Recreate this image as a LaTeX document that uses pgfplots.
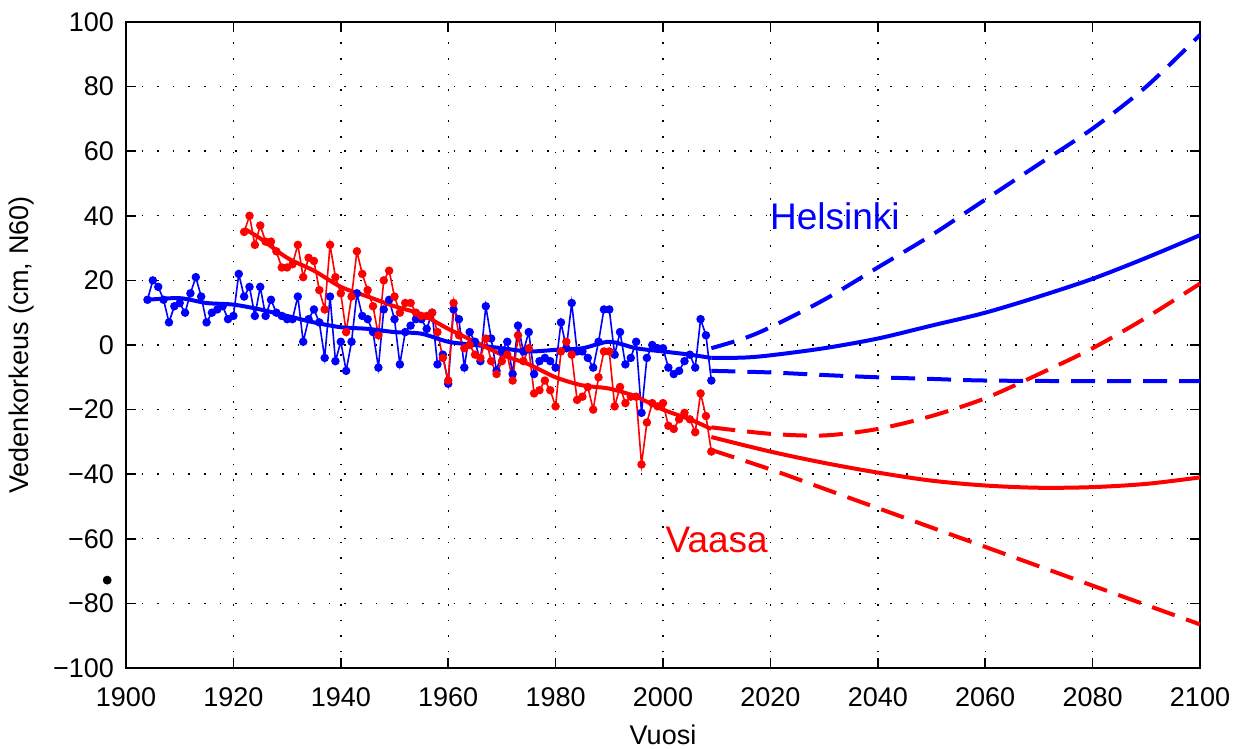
\documentclass[border=0pt]{standalone}
\usepackage{fontspec}
\setmainfont{Liberation Sans}
\usepackage{pgfplots}
\pgfplotsset{compat=1.18}

\definecolor{mblue}{RGB}{0,0,255}
\definecolor{mred}{RGB}{255,0,0}

\begin{document}
\begin{tikzpicture}
\useasboundingbox (-63pt,-40.5pt) rectangle (558pt,334pt);
\begin{axis}[
    at={(0,0)}, anchor=south west,
    scale only axis, width=537pt, height=323pt,
    xmin=1900, xmax=2100, ymin=-100, ymax=100,
    xtick={1900,1920,...,2100},
    xticklabels={1900,1920,1940,1960,1980,2000,2020,2040,2060,2080,2100},
    ytick={-100,-80,...,100},
    yticklabels={−100,−80,−60,−40,−20,0,20,40,60,80,100},
    tick label style={font=\fontsize{13.5}{16}\selectfont},
    xticklabel style={yshift=-6.5pt},
    yticklabel style={xshift=-2.5pt},
    label style={font=\fontsize{13.5}{16}\selectfont},
    grid=major,
    major grid style={black, line width=0.7pt, dash pattern=on 0.8pt off 7pt},
    tick align=inside, major tick length=5pt,
    tick style={black, line width=0.8pt},
    axis line style={line width=0.8pt},
    xlabel={Vuosi},
    xlabel style={at={(axis description cs:0.5,-0.104)}, anchor=center},
    ylabel={Vedenkorkeus (cm, N60)},
    ylabel style={at={(axis description cs:-0.097,0.5)}, anchor=center},
    clip=false,
]
% Helsinki, vuosikeskiarvot
\addplot[mblue, line width=0.8pt, mark=*, mark size=1.7pt] coordinates {
(1904,14)(1905,20)(1906,18)(1907,14)(1908,7)(1909,12)(1910,13)(1911,10)(1912,16)(1913,21)
(1914,15)(1915,7)(1916,10)(1917,11)(1918,12)(1919,8)(1920,9)(1921,22)(1922,15)(1923,18)
(1924,9)(1925,18)(1926,9)(1927,14)(1928,10)(1929,9)(1930,8)(1931,8)(1932,15)(1933,1)
(1934,8)(1935,11)(1936,7)(1937,-4)(1938,15)(1939,-5)(1940,1)(1941,-8)(1942,1)(1943,16)
(1944,9)(1945,8)(1946,4)(1947,-7)(1948,11)(1949,14)(1950,8)(1951,-6)(1952,4)(1953,6)
(1954,8)(1955,8)(1956,5)(1957,10)(1958,-6)(1959,-3)(1960,-12)(1961,11)(1962,8)(1963,-7)
(1964,4)(1965,1)(1966,-5)(1967,12)(1968,2)(1969,-8)(1970,-2)(1971,1)(1972,-9)(1973,6)
(1974,-2)(1975,4)(1976,-9)(1977,-5)(1978,-4)(1979,-5)(1980,-7)(1981,7)(1982,-1)(1983,13)
(1984,-2)(1985,-2)(1986,-4)(1987,-7)(1988,1)(1989,11)(1990,11)(1991,-3)(1992,4)(1993,-6)
(1994,-4)(1995,1)(1996,-21)(1997,-4)(1998,0)(1999,-1)(2000,-1)(2001,-7)(2002,-9)(2003,-8)
(2004,-5)(2005,-3)(2006,-7)(2007,8)(2008,3)(2009,-11)
};
% Vaasa, vuosikeskiarvot
\addplot[mred, line width=0.8pt, mark=*, mark size=1.7pt] coordinates {
(1922,35)(1923,40)(1924,31)(1925,37)(1926,32)(1927,32)(1928,29)(1929,24)(1930,24)(1931,25)
(1932,31)(1933,21)(1934,27)(1935,26)(1936,17)(1937,11)(1938,31)(1939,21)(1940,16)(1941,4)
(1942,15)(1943,29)(1944,22)(1945,17)(1946,12)(1947,3)(1948,20)(1949,23)(1950,15)(1951,10)
(1952,13)(1953,13)(1954,10)(1955,9)(1956,9)(1957,10)(1958,4)(1959,-4)(1960,-11)(1961,13)
(1962,3)(1963,-1)(1964,0)(1965,-3)(1966,-4)(1967,2)(1968,-5)(1969,-9)(1970,-5)(1971,-3)
(1972,-11)(1973,3)(1974,-5)(1975,-1)(1976,-15)(1977,-14)(1978,-11)(1979,-14)(1980,-19)(1981,-2)
(1982,1)(1983,-3)(1984,-17)(1985,-16)(1986,-13)(1987,-20)(1988,-10)(1989,-2)(1990,-2)(1991,-19)
(1992,-13)(1993,-18)(1994,-16)(1995,-16)(1996,-37)(1997,-24)(1998,-18)(1999,-19)(2000,-18)(2001,-25)
(2002,-26)(2003,-23)(2004,-21)(2005,-23)(2006,-27)(2007,-15)(2008,-22)(2009,-33)
};
% tasoitetut trendit
\addplot[mblue, line width=2pt, smooth] coordinates {
(1904,14)(1910,14.5)(1915,13)(1920,12.5)(1925,11)(1930,9)(1935,7)(1940,5.5)(1945,5)(1950,4)
(1955,3.5)(1960,1)(1965,0)(1970,-1)(1975,-2)(1980,-1.5)(1985,-1)(1990,1)(1995,-1)(2000,-2)
(2005,-3)(2009,-4)
};
\addplot[mred, line width=2pt, smooth] coordinates {
(1922,36)(1925,33)(1930,27)(1935,23)(1940,18)(1945,15)(1950,12)(1955,9.5)(1960,5)(1965,1)
(1970,-3)(1975,-6)(1980,-10)(1985,-12.5)(1990,-13.5)(1995,-16)(2000,-20)(2005,-23)(2009,-26)
};
% Helsinki, skenaariot
\addplot[mblue, line width=2pt, smooth] coordinates {
(2009,-4)(2015,-3.9)(2020,-3.2)(2030,-1)(2040,2)(2050,6)(2060,10)(2070,15)(2080,20.5)(2090,27)(2100,34)
};
\addplot[mblue, line width=2pt, smooth, dash pattern=on 12pt off 6pt] coordinates {
(2009,-1)(2015,2)(2020,5.5)(2030,14)(2040,24)(2050,34)(2060,45)(2070,56)(2080,67)(2090,80)(2100,96)
};
\addplot[mblue, line width=2pt, smooth, dash pattern=on 12pt off 6pt] coordinates {
(2009,-8)(2020,-8.5)(2030,-9.3)(2040,-10)(2050,-10.5)(2060,-11)(2080,-11.2)(2100,-11.2)
};
% Vaasa, skenaariot
\addplot[mred, line width=2pt, smooth] coordinates {
(2009,-28.5)(2020,-33)(2030,-36.5)(2040,-39.5)(2050,-42)(2060,-43.5)(2070,-44.2)(2080,-44)(2090,-43)(2100,-41)
};
\addplot[mred, line width=2pt, smooth, dash pattern=on 12pt off 6pt] coordinates {
(2009,-25.5)(2020,-27.5)(2030,-28)(2040,-26)(2050,-22)(2060,-16.5)(2070,-9)(2080,-1)(2090,8.5)(2100,19)
};
\addplot[mred, line width=2pt, smooth, dash pattern=on 12pt off 6pt] coordinates {
(2009,-32.5)(2020,-38.5)(2030,-44.5)(2040,-50.5)(2050,-56.5)(2060,-62.5)(2070,-68.5)(2080,-74.5)(2090,-80.5)(2100,-86.5)
};
% irrallinen piste vasemmalla
\addplot[black, only marks, mark=*, mark size=2pt] coordinates {(1896.5,-72.8)};

\node[mblue, font=\fontsize{18.5}{22}\selectfont] at (axis cs:2032,40) {Helsinki};
\node[mred, font=\fontsize{18.5}{22}\selectfont] at (axis cs:2010,-60.4) {Vaasa};
\end{axis}
\end{tikzpicture}
\end{document}
